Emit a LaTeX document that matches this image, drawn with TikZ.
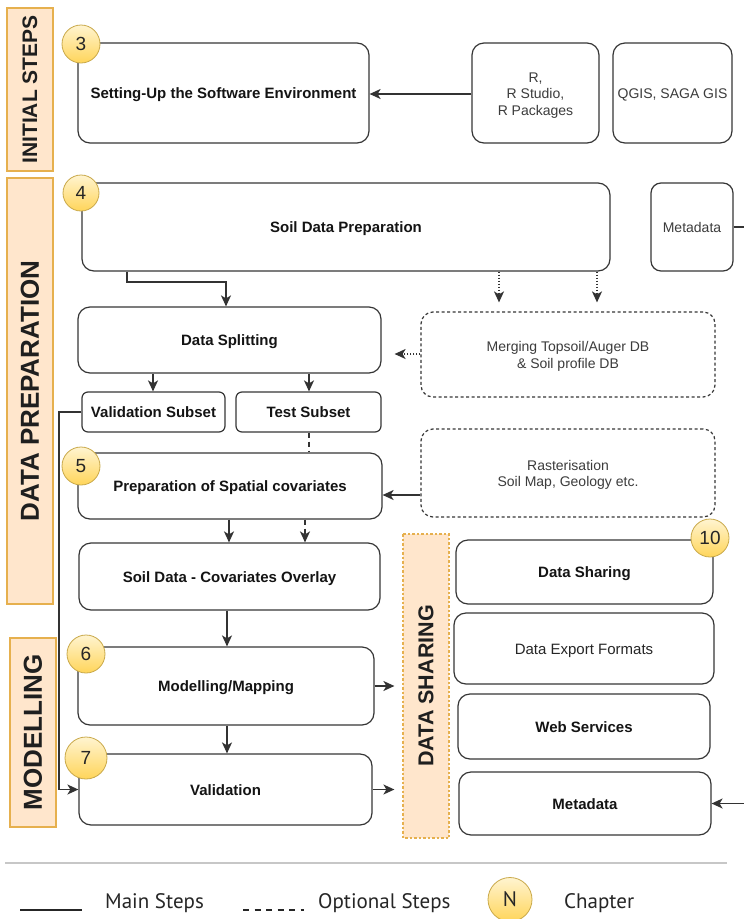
\documentclass[tikz,border=0pt]{standalone}
\usepackage{fontspec}
\setmainfont{Liberation Sans}
\newfontfamily\legfont{PT Sans}
\usetikzlibrary{arrows.meta}
\definecolor{boxc}{HTML}{363636}
\definecolor{linec}{HTML}{333333}
\definecolor{txtgray}{HTML}{3C3C3C}
\definecolor{labf}{HTML}{FFE6CC}
\definecolor{labc}{HTML}{E6B04E}
\definecolor{chapd}{HTML}{C9A94A}
\definecolor{chapt}{HTML}{FFF4D0}
\definecolor{chapb}{HTML}{FFD55A}
\newcommand\mylines[1]{\raisebox{-6pt}[0pt][0pt]{\begin{tabular}{@{}c@{}}#1\end{tabular}}}
\tikzset{
  box/.style={draw=boxc, line width=1.2pt, rounded corners=12pt, fill=white, align=center,
    inner sep=0pt, text height=11pt, text depth=0pt, font=\fontsize{15}{18}\selectfont\bfseries, text=black!92},
  smallbox/.style={box, rounded corners=6pt},
  plainbox/.style={draw=boxc, line width=1.2pt, rounded corners=12pt, fill=white, align=center,
    inner sep=0pt, font=\fontsize{14}{16.5}\selectfont, text=txtgray},
  oneline/.style={text height=11.5pt, text depth=0pt},
  optbox/.style={plainbox, dash pattern=on 3pt off 2.5pt},
  lab/.style={draw=labc, fill=labf, line width=1.2pt, rotate=90, inner sep=0pt, text=black!88},
  chap/.style={circle, draw=chapd, top color=chapt, bottom color=chapb, line width=0.8pt,
    inner sep=0pt, minimum size=38pt, font=\fontsize{19}{19}\selectfont, text=black!85},
  mainarrow/.style={draw=linec, line width=1.5pt, -{Stealth[length=11pt,width=10pt,inset=3pt]}},
  mainline/.style={draw=linec, line width=1.5pt},
  dotarrow/.style={mainarrow, dash pattern=on 1.5pt off 1.5pt},
  dasharrow/.style={mainarrow, dash pattern=on 5pt off 4pt},
  dashline/.style={mainline, dash pattern=on 5pt off 4pt},
  legtext/.style={font=\legfont\fontsize{21}{21}\selectfont, text=black!85, anchor=base west, inner sep=0pt}
}
\begin{document}
\begin{tikzpicture}[x=1pt,y=-1pt]
\useasboundingbox (0,0) rectangle (744,919);
\fill[white] (0,0) rectangle (744,919);

% side labels
\node[lab, minimum width=163pt, minimum height=46pt, font=\fontsize{21}{21}\selectfont\bfseries] (l1) at (30,89.5) {INITIAL STEPS};
\node[lab, minimum width=426pt, minimum height=46pt, font=\fontsize{26}{26}\selectfont\bfseries] (l2) at (30,391) {DATA PREPARATION};
\node[lab, minimum width=189pt, minimum height=46pt, font=\fontsize{26}{26}\selectfont\bfseries] (l3) at (33,732.5) {MODELLING};
\node[lab, dash pattern=on 2.5pt off 2pt, minimum width=304pt, minimum height=46pt, font=\fontsize{21.5}{21.5}\selectfont\bfseries] (l4) at (426,686) {DATA SHARING};

% boxes
\node[box, minimum width=291pt, minimum height=100pt] (setup) at (223.5,93) {Setting-Up the Software Environment};
\node[plainbox, minimum width=127pt, minimum height=100pt] (rbox) at (535.5,93) {\mylines{R,\\R Studio,\\R Packages}};
\node[plainbox, oneline, minimum width=119pt, minimum height=100pt] (qgis) at (672.5,93) {QGIS, SAGA GIS};
\node[box, minimum width=528pt, minimum height=88pt] (prep) at (346,227) {Soil Data Preparation};
\node[plainbox, oneline, rounded corners=10pt, minimum width=82pt, minimum height=88pt] (meta1) at (692,227) {Metadata};
\node[box, minimum width=303pt, minimum height=66pt] (split) at (229.5,340) {Data Splitting};
\node[optbox, minimum width=294pt, minimum height=85pt] (merge) at (568,354.5) {\mylines{Merging Topsoil/Auger DB\\\& Soil profile DB}};
\node[smallbox, minimum width=143pt, minimum height=40pt] (vsub) at (153.5,412) {Validation Subset};
\node[smallbox, minimum width=145pt, minimum height=40pt] (tsub) at (308.5,412) {Test Subset};
\node[box, minimum width=304pt, minimum height=66pt] (spat) at (230,486) {Preparation of Spatial covariates};
\node[optbox, minimum width=294pt, minimum height=88pt] (rast) at (568,473) {\mylines{Rasterisation\\Soil Map, Geology etc.}};
\node[box, minimum width=301pt, minimum height=67pt] (overlay) at (229.5,576.5) {Soil Data - Covariates Overlay};
\node[box, minimum width=296pt, minimum height=78pt] (model) at (226,686) {Modelling/Mapping};
\node[box, minimum width=293pt, minimum height=71pt] (valid) at (225.5,789.5) {Validation};
\node[box, minimum width=257pt, minimum height=64pt] (dsh) at (584.5,572) {Data Sharing};
\node[box, minimum width=260pt, minimum height=71pt, font=\fontsize{15}{18}\selectfont, text=black!85] (dexp) at (584,648.5) {Data Export Formats};
\node[box, minimum width=252pt, minimum height=65pt] (web) at (584,726.5) {Web Services};
\node[box, minimum width=252pt, minimum height=63pt] (meta2) at (585,803.5) {Metadata};

% chapter circles
\node[chap] (c3) at (81,44) {3};
\node[chap, minimum size=36pt] (c4) at (81,193) {4};
\node[chap] (c5) at (81,466) {5};
\node[chap] (c6) at (86,654) {6};
\node[chap, minimum size=42pt] (c7) at (86,758) {7};
\node[chap] (c10) at (710,538) {10};

% connectors
\draw[mainarrow] (rbox.west |- 0,94) -- (setup.east |- 0,94);
\draw[mainarrow] (127,0 |- prep.south) -- (127,282) -- (226,282) -- (226,0 |- split.north);
\draw[dotarrow, shorten >=9pt] (499,0 |- prep.south) -- (499,0 |- merge.north);
\draw[dotarrow, shorten >=9pt] (597,0 |- prep.south) -- (597,0 |- merge.north);
\draw[dotarrow, shorten >=13pt] (merge.west |- 0,354) -- (split.east |- 0,354);
\draw[mainarrow] (153,0 |- split.south) -- (153,0 |- vsub.north);
\draw[mainarrow] (309,0 |- split.south) -- (309,0 |- tsub.north);
\draw[mainarrow] (vsub.west) -- (59,0 |- vsub.west) -- (59,0 |- valid.west) -- (valid.west);
\draw[dashline] (309,0 |- tsub.south) -- (309,0 |- spat.north);
\draw[mainarrow] (rast.west |- 0,495) -- (spat.east |- 0,495);
\draw[mainarrow] (229,0 |- spat.south) -- (229,0 |- overlay.north);
\draw[dasharrow] (305,0 |- spat.south) -- (305,0 |- overlay.north);
\draw[mainarrow] (227,0 |- overlay.south) -- (227,0 |- model.north);
\draw[mainarrow] (227,0 |- model.south) -- (227,0 |- valid.north);
\draw[mainarrow, shorten >=8pt] (model.east) -- (l4.north |- model.east);
\draw[mainarrow, shorten >=8pt] (valid.east) -- (l4.north |- valid.east);
\draw[mainarrow] (meta1.east) -- (760,0 |- meta1.east) -- (760,0 |- meta2.east) -- (meta2.east);

% separator and legend
\draw[black!22, line width=2.5pt] (5,863) -- (727,863);
\coordinate (la) at (20,910);
\coordinate (lb) at (82,910);
\coordinate (lc) at (243,910);
\coordinate (ld) at (304,910);
\draw[black!85, line width=1.8pt] (la) -- (lb);
\draw[black!85, line width=1.8pt, dash pattern=on 6pt off 5.5pt] (lc) -- (ld);
\node[legtext] (t1) at (105,908) {Main Steps};
\node[legtext] (t2) at (318,908) {Optional Steps};
\node[chap, minimum size=44pt, font=\legfont\fontsize{21}{21}\selectfont] (cn) at (510,899.5) {N};
\node[legtext] (t3) at (564,908) {Chapter};
\end{tikzpicture}
\end{document}
